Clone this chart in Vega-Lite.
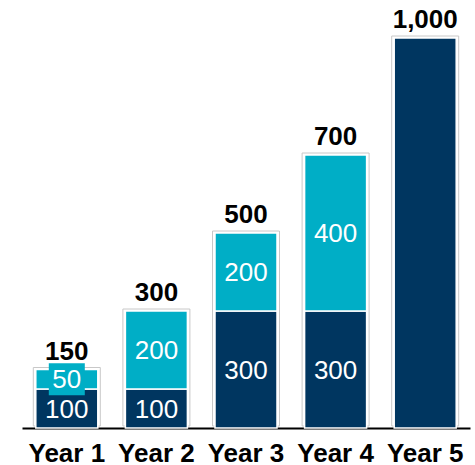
{
  "$schema": "https://vega.github.io/schema/vega-lite/v6.json",
  "width": 448,
  "height": 390,
  "autosize": {"type": "none"},
  "padding": {"left": 22, "top": 38, "right": 5, "bottom": 37},
  "background": "white",
  "config": {"view": {"stroke": null}, "font": "Liberation Sans"},
  "datasets": {
    "segments": [
      {"year": "Year 1", "part": "base", "order": 1, "value": 100, "label": "100"},
      {"year": "Year 1", "part": "growth", "order": 2, "value": 50, "label": "50"},
      {"year": "Year 2", "part": "base", "order": 1, "value": 100, "label": "100"},
      {"year": "Year 2", "part": "growth", "order": 2, "value": 200, "label": "200"},
      {"year": "Year 3", "part": "base", "order": 1, "value": 300, "label": "300"},
      {"year": "Year 3", "part": "growth", "order": 2, "value": 200, "label": "200"},
      {"year": "Year 4", "part": "base", "order": 1, "value": 300, "label": "300"},
      {"year": "Year 4", "part": "growth", "order": 2, "value": 400, "label": "400"},
      {"year": "Year 5", "part": "base", "order": 1, "value": 1000, "label": ""}
    ],
    "totals": [
      {"year": "Year 1", "total": 150, "label": "150"},
      {"year": "Year 2", "total": 300, "label": "300"},
      {"year": "Year 3", "total": 500, "label": "500"},
      {"year": "Year 4", "total": 700, "label": "700"},
      {"year": "Year 5", "total": 1000, "label": "1,000"}
    ]
  },
  "encoding": {
    "x": {
      "field": "year", "type": "nominal", "sort": null,
      "scale": {"paddingInner": 0, "paddingOuter": 0},
      "axis": {
        "title": null, "labelAngle": 0, "ticks": false, "grid": false,
        "domainColor": "#000000", "domainWidth": 2,
        "labelFont": "Liberation Sans", "labelFontSize": 26, "labelFontWeight": "bold",
        "labelColor": "#000000", "labelPadding": 12
      }
    }
  },
  "layer": [
    {
      "data": {"name": "totals"},
      "mark": {"type": "bar", "size": 67, "fill": "white", "stroke": "#c8c8c8", "strokeWidth": 1, "yOffset": -2},
      "encoding": {
        "y": {"field": "total", "type": "quantitative", "scale": {"domain": [0, 1000], "nice": false}, "axis": null}
      }
    },
    {
      "data": {"name": "segments"},
      "mark": {"type": "bar", "size": 62, "stroke": "white", "strokeWidth": 1.5},
      "encoding": {
        "y": {"field": "value", "type": "quantitative", "stack": "zero", "scale": {"domain": [0, 1000], "nice": false}, "axis": null},
        "order": {"field": "order", "type": "quantitative"},
        "color": {"field": "part", "type": "nominal", "scale": {"domain": ["base", "growth"], "range": ["#003660", "#00AEC6"]}, "legend": null}
      }
    },
    {
      "data": {"name": "segments"},
      "transform": [
        {"stack": "value", "groupby": ["year"], "sort": [{"field": "order"}], "as": ["v0", "v1"]},
        {"calculate": "(datum.v0 + datum.v1) / 2", "as": "mid"}
      ],
      "layer": [
        {
          "transform": [{"filter": "datum.year === 'Year 1' && datum.part === 'growth'"}],
          "mark": {"type": "point", "shape": "M-1,-0.889H1V0.889H-1Z", "size": 1296, "filled": true, "fill": "#00AEC6", "opacity": 1, "strokeWidth": 0},
          "encoding": {"y": {"field": "mid", "type": "quantitative", "scale": {"domain": [0, 1000], "nice": false}, "axis": null}}
        },
        {
          "mark": {"type": "text", "color": "white", "fontSize": 26, "baseline": "middle", "align": "center", "dy": 1},
          "encoding": {
            "y": {"field": "mid", "type": "quantitative", "scale": {"domain": [0, 1000], "nice": false}, "axis": null},
            "text": {"field": "label"}
          }
        }
      ]
    },
    {
      "data": {"name": "totals"},
      "mark": {"type": "text", "color": "#000000", "fontSize": 26, "fontWeight": "bold", "baseline": "alphabetic", "align": "center", "dy": -10},
      "encoding": {
        "y": {"field": "total", "type": "quantitative", "scale": {"domain": [0, 1000], "nice": false}, "axis": null},
        "text": {"field": "label"}
      }
    }
  ]
}
